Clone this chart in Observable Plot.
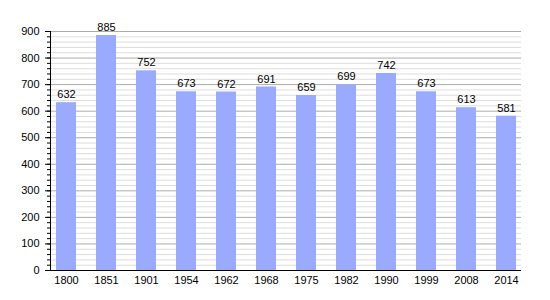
<!DOCTYPE html>
<html><head><meta charset="utf-8">
<script src="https://cdn.jsdelivr.net/npm/d3@7"></script>
<script src="https://cdn.jsdelivr.net/npm/@observablehq/plot@0.6"></script>
<style>body{margin:0;background:#fff}</style>
</head><body><div id="chart"></div>
<script>
const years = ["1800","1851","1901","1954","1962","1968","1975","1982","1990","1999","2008","2014"];
const population = [632,885,752,673,672,691,659,699,742,673,613,581];
const majorTicks = [0,100,200,300,400,500,600,700,800,900];
const minorTicks = d3.range(0, 901, 20);

const data = years.map((y, i) => ({year: y, pop: population[i]}));

const chart = Plot.plot({
  width: 550, height: 300,
  marginLeft: 50, marginRight: 29, marginTop: 31, marginBottom: 30,
  style: {fontFamily: "Liberation Sans, Arial, sans-serif", fontSize: "11px", color: "#000", background: "#fff"},
  x: {domain: years, paddingInner: 0.5, paddingOuter: 0.02, label: null},
  y: {domain: [0, 900], label: null},
  marks: [
    Plot.ruleY(minorTicks.filter(d => d % 100 !== 0), {stroke: "#dddddd", strokeWidth: 1}),
    Plot.ruleY(majorTicks.filter(d => d > 0), {stroke: "#aaaaaa", strokeWidth: 1}),
    Plot.barY(data, {x: "year", y: "pop", fill: "#99aaff"}),
    Plot.text(data, {x: "year", y: "pop", text: d => String(d.pop), dy: -8, fill: "#000", fontSize: 11}),
    Plot.axisY({ticks: minorTicks, tickSize: 3, tickFormat: () => "", stroke: "#000"}),
    Plot.axisY({ticks: majorTicks, tickSize: 5, tickPadding: 6, stroke: "#000", fontSize: 11}),
    Plot.axisX({tickSize: 0, tickPadding: 6, fontSize: 11}),
    Plot.frame({anchor: "left", stroke: "#000"}),
    Plot.ruleY([0], {stroke: "#000"})
  ]
});
document.getElementById("chart").appendChild(chart);
</script></body></html>
